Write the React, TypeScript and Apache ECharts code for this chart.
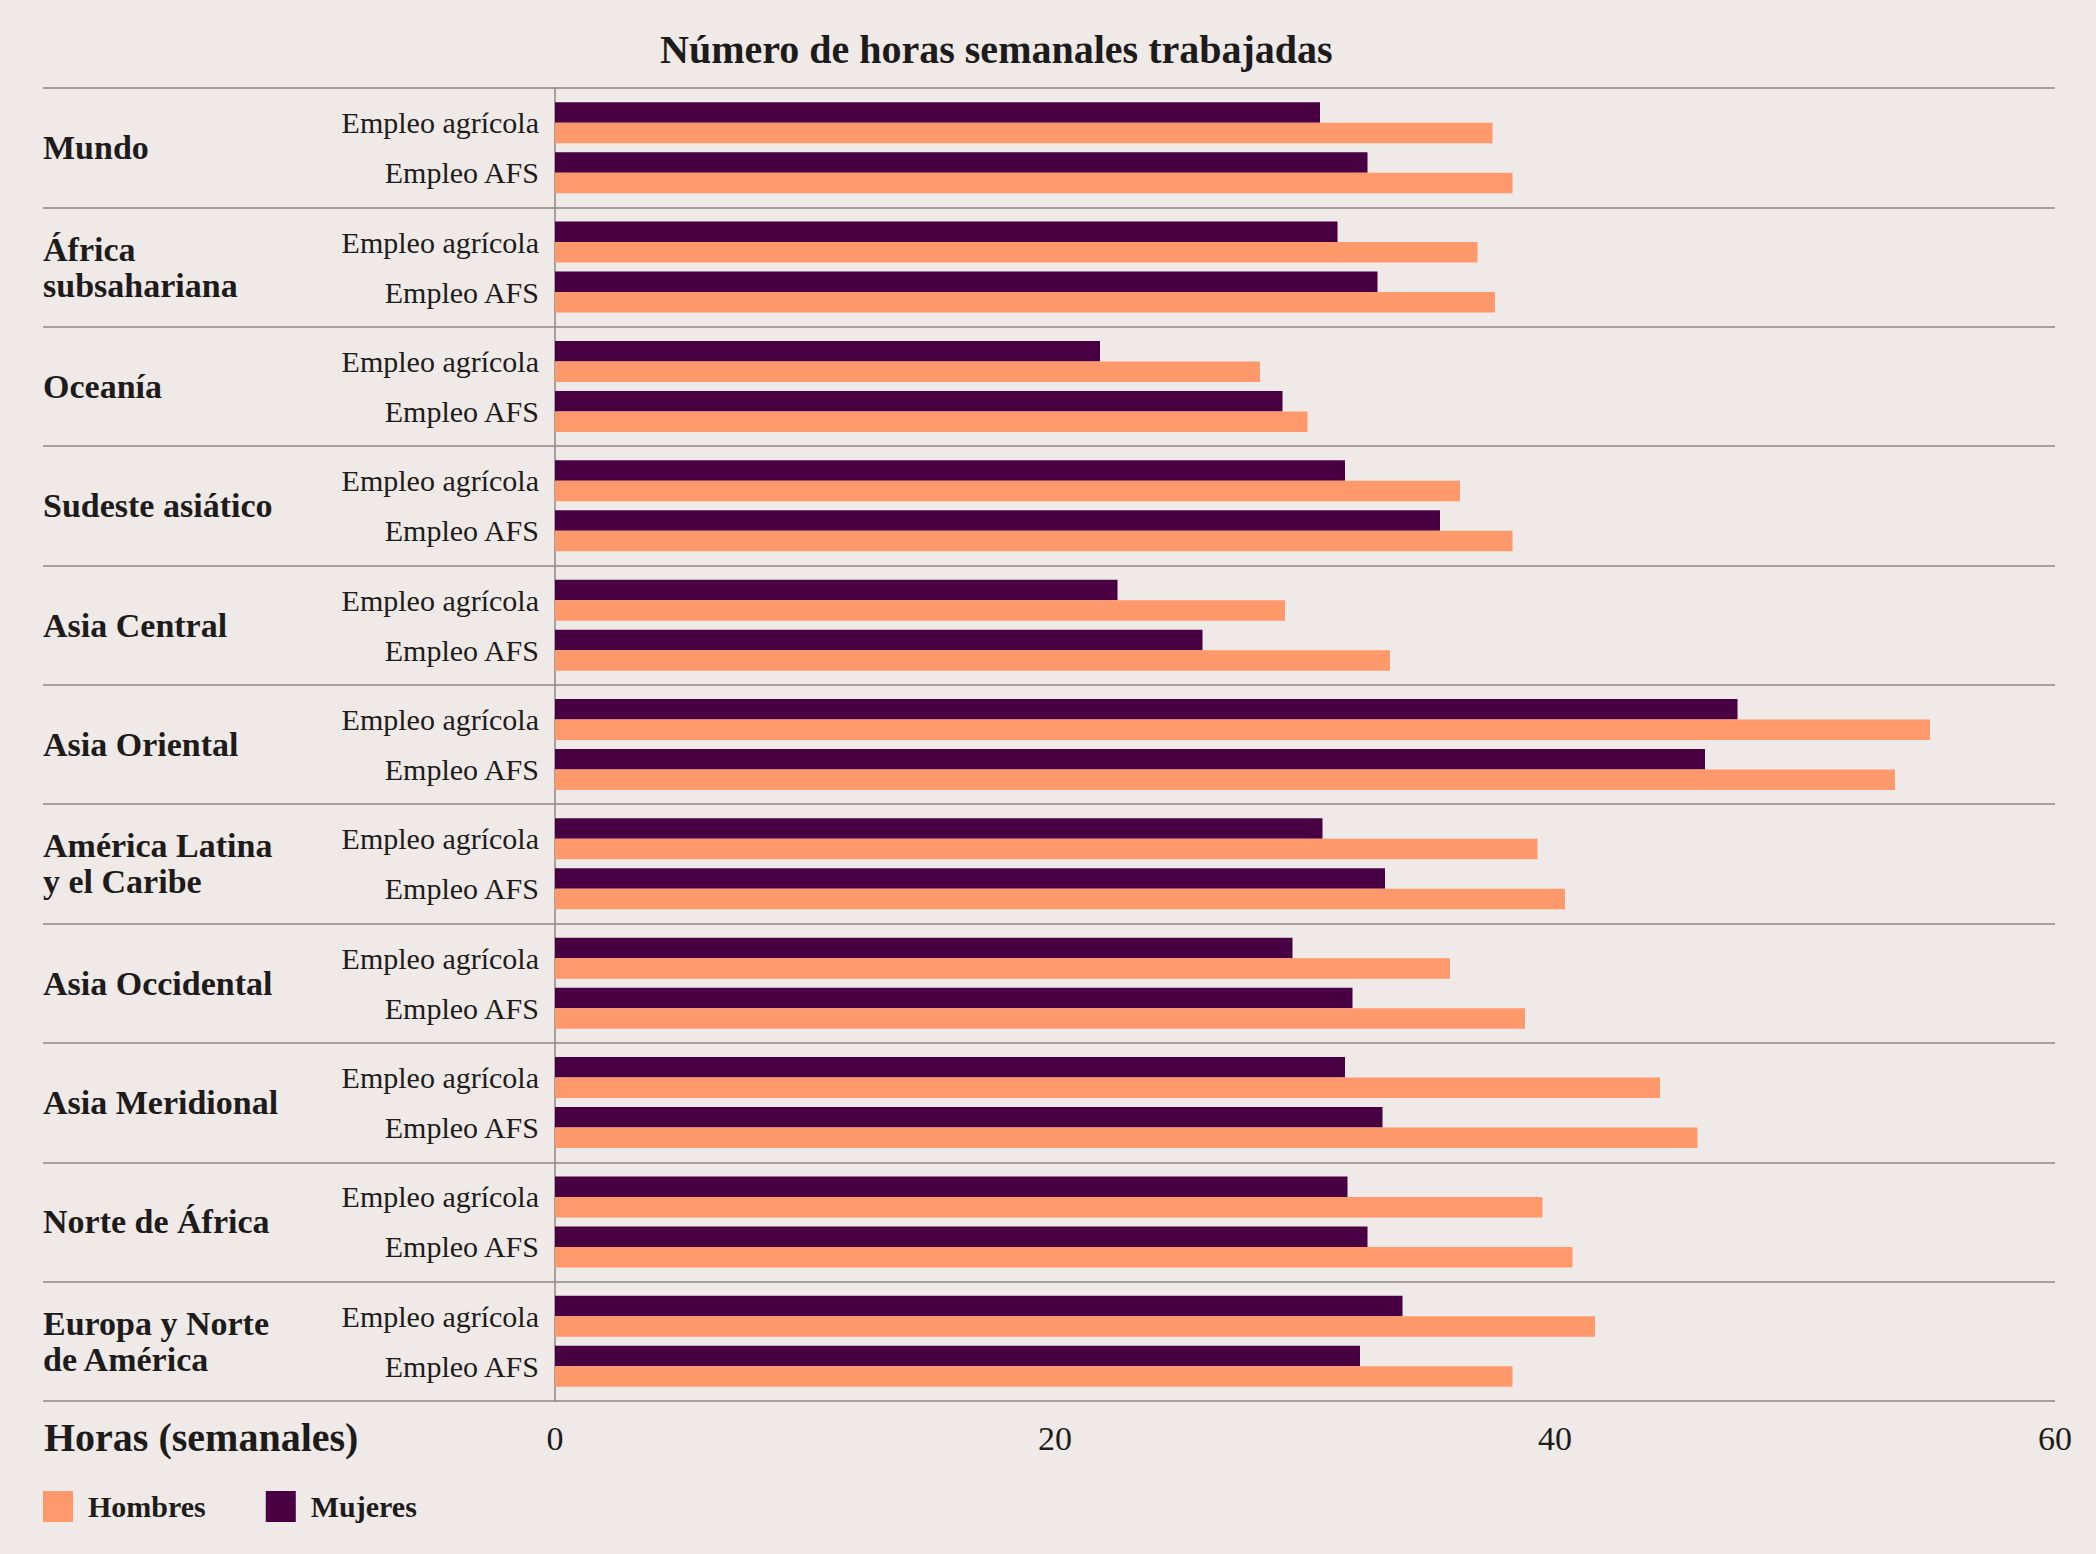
import React, { useEffect, useRef } from "react";
import * as echarts from "echarts";

const regions = [
  "Mundo",
  "África subsahariana",
  "Oceanía",
  "Sudeste asiático",
  "Asia Central",
  "Asia Oriental",
  "América Latina y el Caribe",
  "Asia Occidental",
  "Asia Meridional",
  "Norte de África",
  "Europa y Norte de América",
];
const regionLabels = [
  "Mundo",
  "África\nsubsahariana",
  "Oceanía",
  "Sudeste asiático",
  "Asia Central",
  "Asia Oriental",
  "América Latina\ny el Caribe",
  "Asia Occidental",
  "Asia Meridional",
  "Norte de África",
  "Europa y Norte\nde América",
];
const sectors = ["Empleo agrícola", "Empleo AFS"];

const mujeresAgricola = [30.6, 31.3, 21.8, 31.6, 22.5, 47.3, 30.7, 29.5, 31.6, 31.7, 33.9];
const mujeresAFS = [32.5, 32.9, 29.1, 35.4, 25.9, 46.0, 33.2, 31.9, 33.1, 32.5, 32.2];
const hombresAgricola = [37.5, 36.9, 28.2, 36.2, 29.2, 55.0, 39.3, 35.8, 44.2, 39.5, 41.6];
const hombresAFS = [38.3, 37.6, 30.1, 38.3, 33.4, 53.6, 40.4, 38.8, 45.7, 40.7, 38.3];

const xTicks = { min: 0, max: 60, interval: 20 };

const ORANGE = "#ff996c";
const PURPLE = "#480042";
const LINE = "#8c8684";
const TEXT = "#1e1b1b";
const BG = "#efe9e7";
const FONT = "'Liberation Serif', 'DejaVu Serif', serif";

export default function App() {
  const ref = useRef<HTMLDivElement>(null);
  useEffect(() => {
    document.body.style.margin = "0";
    const chart = echarts.init(ref.current!, null, { renderer: "svg" });
    const gridLeft = 555;
    const labelLeft = 43;
    const BW = 20.5;
    const bar = (name: string, data: number[], color: string, width = BW, silent = false) => ({
      name,
      type: "bar",
      yAxisIndex: 0,
      data,
      barWidth: width,
      barGap: "0%",
      silent,
      itemStyle: { color },
    });
    chart.setOption({
      animation: false,
      backgroundColor: BG,
      textStyle: { fontFamily: FONT },
      title: [
        {
          text: "Número de horas semanales trabajadas",
          left: 655,
          top: 24,
          textStyle: { fontFamily: FONT, fontSize: 40, fontWeight: "bold", color: TEXT },
        },
        {
          text: "Horas (semanales)",
          left: labelLeft - 4,
          top: 1412,
          textStyle: { fontFamily: FONT, fontSize: 40, fontWeight: "bold", color: TEXT },
        },
      ],
      legend: {
        data: ["Hombres", "Mujeres"],
        left: labelLeft - 5,
        top: 1486,
        icon: "rect",
        itemWidth: 30,
        itemHeight: 31,
        itemGap: 60,
        textStyle: {
          fontFamily: FONT,
          fontSize: 30,
          fontWeight: "bold",
          color: TEXT,
          padding: [0, 0, 0, 10],
        },
      },
      grid: { left: gridLeft, right: 41, top: 88, bottom: 153, containLabel: false },
      xAxis: {
        type: "value",
        min: xTicks.min,
        max: xTicks.max,
        interval: xTicks.interval,
        axisLine: { show: false },
        axisTick: { show: false },
        splitLine: { show: false },
        axisLabel: { fontFamily: FONT, fontSize: 34, color: TEXT, margin: 20 },
      },
      yAxis: [
        {
          type: "category",
          data: regions,
          inverse: true,
          axisLine: { show: true, lineStyle: { color: LINE, width: 1.5 } },
          axisTick: {
            show: true,
            interval: 0,
            length: gridLeft - labelLeft,
            lineStyle: { color: LINE, width: 1.5 },
          },
          splitLine: { show: true, interval: 0, lineStyle: { color: LINE, width: 1.5 } },
          axisLabel: {
            interval: 0,
            margin: 16,
            fontFamily: FONT,
            fontSize: 30,
            lineHeight: 50,
            color: TEXT,
            align: "right",
            formatter: () => sectors.join("\n"),
          },
        },
        {
          type: "category",
          data: regions,
          inverse: true,
          position: "left",
          axisLine: { show: false },
          axisTick: { show: false },
          splitLine: { show: false },
          axisLabel: {
            interval: 0,
            margin: gridLeft - labelLeft,
            align: "left",
            fontFamily: FONT,
            fontSize: 34,
            lineHeight: 36,
            fontWeight: "bold",
            color: TEXT,
            formatter: (_v: string, i: number) => regionLabels[i],
          },
        },
      ],
      series: [
        bar("Mujeres", mujeresAgricola, PURPLE),
        bar("Hombres", hombresAgricola, ORANGE),
        bar("spacer", regions.map(() => 0), "rgba(0,0,0,0)", 9, true),
        bar("Mujeres", mujeresAFS, PURPLE),
        bar("Hombres", hombresAFS, ORANGE),
      ],
    });
    return () => chart.dispose();
  }, []);
  return <div ref={ref} style={{ width: 2096, height: 1554 }} />;
}
